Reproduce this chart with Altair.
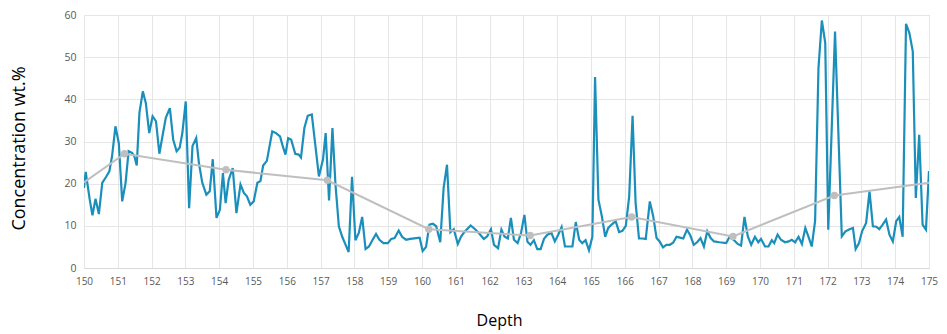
import altair as alt
import pandas as pd

depth = [150.00, 150.05, 150.17, 150.25, 150.34, 150.44, 150.54, 150.66, 150.75, 150.83,
         150.93, 151.03, 151.13, 151.23, 151.32, 151.42, 151.49, 151.56, 151.64, 151.74,
         151.83, 151.93, 152.03, 152.13, 152.23, 152.32, 152.42, 152.54, 152.64, 152.74,
         152.83, 152.91, 153.01, 153.11, 153.21, 153.32, 153.40, 153.50, 153.62, 153.72,
         153.81, 153.92, 154.02, 154.11, 154.19, 154.28, 154.40, 154.51, 154.63, 154.73,
         154.82, 154.92, 155.02, 155.13, 155.22, 155.30, 155.41, 155.57, 155.68, 155.80,
         155.88, 155.96, 156.04, 156.13, 156.25, 156.35, 156.42, 156.52, 156.62, 156.74,
         156.82, 156.95, 157.07, 157.15, 157.25, 157.35, 157.44, 157.54, 157.64, 157.74,
         157.83, 157.93, 158.03, 158.13, 158.23, 158.33, 158.43, 158.54, 158.64, 158.74,
         158.86, 158.99, 159.09, 159.19, 159.31, 159.41, 159.53, 159.65, 159.83, 159.93,
         160.02, 160.12, 160.22, 160.32, 160.42, 160.54, 160.64, 160.74, 160.84, 160.94,
         161.06, 161.16, 161.26, 161.44, 161.57, 161.68, 161.83, 161.93, 162.04, 162.13,
         162.25, 162.35, 162.44, 162.54, 162.63, 162.72, 162.83, 162.93, 163.03, 163.12,
         163.21, 163.31, 163.41, 163.51, 163.61, 163.71, 163.83, 163.93, 164.03, 164.13,
         164.23, 164.35, 164.45, 164.55, 164.65, 164.74, 164.84, 164.94, 165.04, 165.12,
         165.22, 165.32, 165.42, 165.51, 165.61, 165.73, 165.83, 165.93, 166.03, 166.13,
         166.23, 166.32, 166.42, 166.52, 166.62, 166.74, 166.84, 166.94, 167.03, 167.13,
         167.23, 167.33, 167.43, 167.53, 167.63, 167.73, 167.84, 167.94, 168.04, 168.14,
         168.24, 168.34, 168.44, 168.54, 168.64, 168.80, 169.00, 169.10, 169.22, 169.34,
         169.44, 169.54, 169.64, 169.74, 169.85, 169.95, 170.03, 170.15, 170.25, 170.35,
         170.42, 170.52, 170.62, 170.74, 170.85, 170.94, 171.04, 171.14, 171.24, 171.34,
         171.43, 171.53, 171.63, 171.73, 171.83, 171.93, 172.02, 172.22, 172.42, 172.53,
         172.65, 172.75, 172.83, 172.93, 173.02, 173.14, 173.24, 173.34, 173.44, 173.53,
         173.63, 173.73, 173.83, 173.93, 174.03, 174.12, 174.22, 174.32, 174.42, 174.52,
         174.61, 174.71, 174.81, 174.91, 175.00]

concentration = [19.0, 22.8, 16.2, 12.5, 16.4, 12.8, 20.2, 21.7, 22.9, 26.5,
                 33.6, 29.6, 15.8, 20.2, 27.7, 27.3, 26.5, 24.3, 36.8, 41.9,
                 39.1, 32.0, 36.0, 34.8, 27.1, 31.2, 35.6, 37.9, 30.4, 27.7,
                 28.5, 32.0, 39.5, 14.2, 28.9, 30.8, 24.9, 20.2, 17.4, 18.2,
                 25.8, 11.9, 13.8, 22.5, 15.4, 20.9, 23.7, 13.0, 19.8, 17.8,
                 17.0, 15.0, 15.8, 20.2, 20.6, 24.3, 25.4, 32.4, 32.0, 31.2,
                 28.9, 26.9, 30.8, 30.4, 27.1, 26.9, 26.2, 33.2, 36.1, 36.4,
                 30.8, 21.7, 25.7, 32.0, 16.0, 33.2, 19.8, 9.9, 7.4, 5.5,
                 3.8, 21.6, 6.6, 8.3, 12.1, 4.5, 5.1, 6.7, 8.1, 6.7,
                 5.9, 5.9, 6.9, 7.1, 8.9, 7.4, 6.7, 6.9, 7.1, 7.2,
                 4.0, 5.0, 10.3, 10.5, 9.9, 6.1, 19.0, 24.5, 8.5, 9.2,
                 5.7, 7.5, 8.6, 10.1, 9.2, 8.3, 6.9, 7.5, 9.2, 5.5,
                 4.7, 9.1, 7.5, 7.0, 11.9, 6.7, 5.9, 8.3, 12.6, 6.2,
                 5.5, 6.6, 4.5, 4.5, 6.9, 7.9, 8.3, 6.3, 7.9, 9.7,
                 5.1, 5.1, 5.1, 10.9, 6.7, 5.9, 6.6, 4.2, 7.4, 45.3,
                 16.2, 12.3, 7.4, 9.5, 10.3, 11.1, 8.5, 8.8, 10.0, 17.0,
                 36.1, 15.4, 7.0, 7.0, 6.9, 15.8, 12.3, 7.1, 6.3, 4.9,
                 5.5, 5.5, 6.0, 7.4, 7.2, 7.0, 9.1, 7.7, 5.5, 6.1,
                 7.1, 5.1, 8.7, 7.1, 6.3, 6.1, 5.9, 7.4, 6.7, 5.7,
                 5.3, 12.1, 7.5, 5.5, 7.4, 6.1, 6.9, 5.1, 5.1, 6.6,
                 5.9, 7.9, 6.7, 6.1, 6.3, 6.7, 6.1, 7.4, 5.7, 9.5,
                 7.5, 5.1, 11.1, 47.4, 58.7, 53.4, 9.1, 56.1, 7.5, 8.7,
                 9.2, 9.5, 4.5, 5.9, 8.7, 10.7, 18.2, 9.9, 9.8, 9.2,
                 10.3, 11.5, 7.9, 6.3, 11.1, 12.1, 7.4, 57.9, 55.7, 51.4,
                 16.6, 31.6, 10.3, 9.1, 23.0]

trend_depth = [150.0, 151.2, 154.2, 157.2, 160.2, 163.2, 166.2, 169.2, 172.2, 175.0]
trend_value = [20.3, 27.1, 23.3, 20.8, 9.2, 7.7, 12.1, 7.5, 17.2, 20.2]
trend_marker = [False, True, True, True, True, True, True, True, True, False]

x_ticks = list(range(150, 176))
y_ticks = [0, 10, 20, 30, 40, 50, 60]

df = pd.DataFrame({"Depth": depth, "Concentration": concentration})
tdf = pd.DataFrame({"Depth": trend_depth, "Concentration": trend_value, "marker": trend_marker})

FONT = "Open Sans"

x_scale = alt.Scale(domain=[150, 175], nice=False, zero=False)
y_scale = alt.Scale(domain=[0, 60], nice=False)

x_axis = alt.Axis(values=x_ticks, tickCount=26, title="Depth", labelFont=FONT, labelFontSize=10,
                  labelColor="#595959", labelPadding=8, ticks=False, labelOverlap=False,
                  domainColor="#d9d9d9", gridColor="#e6e6e6", labelFlush=False,
                  titleFont=FONT, titleFontSize=16, titleFontWeight="normal",
                  titleColor="#000000", titleX=415, titleY=44, titleBaseline="top")
y_axis = alt.Axis(values=y_ticks, title="Concentration wt.%", labelFont=FONT,
                  labelFontSize=10.5, labelColor="#595959", labelPadding=8, ticks=False,
                  domain=False, gridColor="#e6e6e6",
                  titleFont=FONT, titleFontSize=18, titleFontWeight="normal",
                  titleColor="#000000", titleX=-56, titleY=133, titleAngle=-90)

X = alt.X("Depth:Q", scale=x_scale, axis=x_axis)
Y = alt.Y("Concentration:Q", scale=y_scale, axis=y_axis)

line = alt.Chart(df).mark_line(color="#1a8fbb", strokeWidth=2.2, clip=True).encode(
    x=X, y=Y, order="Depth:Q",
)

trend = alt.Chart(tdf).mark_line(color="#bfbfbf", strokeWidth=2).encode(x=X, y=Y)

markers = alt.Chart(tdf).transform_filter("datum.marker").mark_point(
    filled=True, color="#bfbfbf", size=55, opacity=1, shape="circle").encode(x=X, y=Y)

chart = alt.layer(line, trend, markers).properties(
    width=845, height=253,
    autosize=alt.AutoSizeParams(type="none"),
    padding={"left": 84, "top": 15, "right": 18, "bottom": 66},
).configure_view(stroke="#e6e6e6").configure(background="white")

chart.save("out.html", embed_options={"renderer": "svg", "actions": False})
